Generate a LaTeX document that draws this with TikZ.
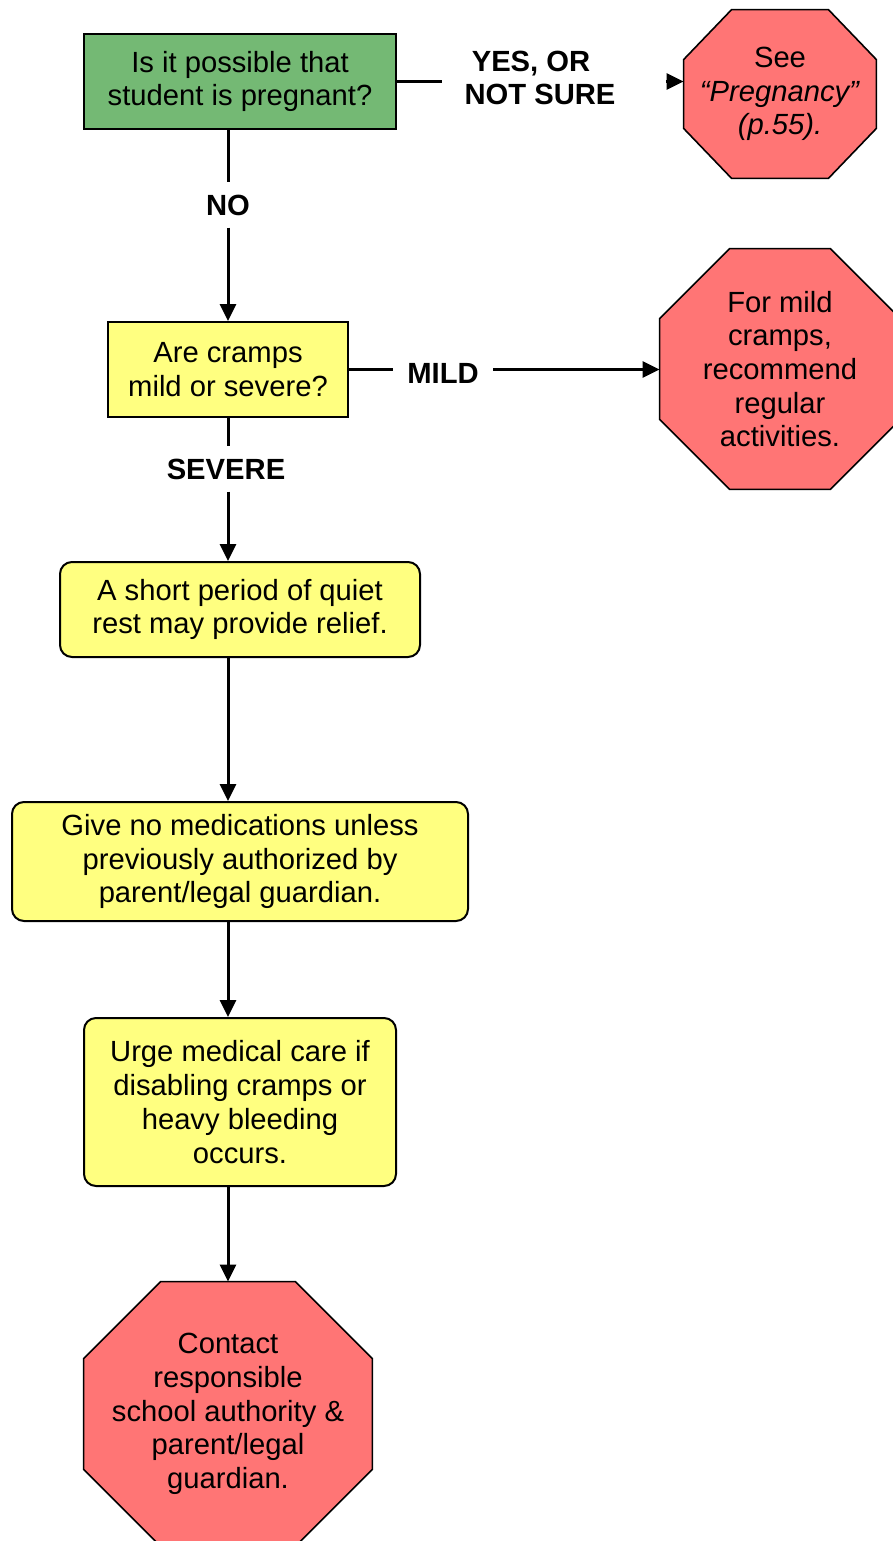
\documentclass[tikz,border=0pt]{standalone}
\usepackage{fontspec}
\setmainfont{Liberation Sans}
\usetikzlibrary{arrows.meta,backgrounds}
\definecolor{qgreen}{RGB}{116,185,116}
\definecolor{qyellow}{RGB}{255,255,128}
\definecolor{qred}{RGB}{255,117,117}
\newcommand{\octdraw}[3]{%
  \draw[octline] ([xshift=#2]#1.north west) -- ([xshift=-#2]#1.north east)
    -- ([yshift=-#3]#1.north east) -- ([yshift=#3]#1.south east)
    -- ([xshift=-#2]#1.south east) -- ([xshift=#2]#1.south west)
    -- ([yshift=#3]#1.south west) -- ([yshift=-#3]#1.north west) -- cycle;}
\begin{document}
\begin{tikzpicture}[x=0.5pt,y=-0.5pt,
  font=\fontsize{14.6pt}{16.85pt}\selectfont,
  qbox/.style={draw, line width=1pt, align=center, inner sep=0pt},
  rbox/.style={qbox, fill=qyellow, rounded corners=6pt},
  lbl/.style={font=\fontsize{14.6pt}{16.85pt}\selectfont\bfseries, align=center},
  octn/.style={inner sep=0pt, align=center},
  octline/.style={draw, fill=qred, line width=0.8pt},
  conn/.style={line width=1.5pt},
  arr/.style={conn, -{Triangle[length=8.5pt,width=8pt]}}]
\useasboundingbox (0,0) rectangle (893,1541);

\node[qbox, fill=qgreen, minimum width=156pt, minimum height=47.5pt] (g) at (240,81.5)
  {Is it possible that\\student is pregnant?};
\node[lbl, inner xsep=11pt] (ly) at (540,78) {YES, OR\kern9pt\\NOT SURE};
\node[octn, minimum width=96pt, minimum height=84pt] (o1) at (780,94)
  {See\\\textit{“Pregnancy”}\\\textit{(p.55).}};

\node[lbl, inner ysep=6pt] (ln) at (228,205) {NO};
\node[qbox, fill=qyellow, minimum width=120pt, minimum height=47.5pt] (b2) at (228,369.5)
  {Are cramps\\mild or severe?};
\node[lbl, inner xsep=7pt] (lm) at (443,373) {MILD};
\node[octn, minimum width=120pt, minimum height=120pt] (o2) at (780,369)
  {For mild\\cramps,\\recommend\\regular\\activities.};

\node[lbl, inner ysep=6pt] (ls) at (226,469) {SEVERE};
\node[rbox, minimum width=180pt, minimum height=47.5pt] (b3) at (240,609.5)
  {A short period of quiet\\rest may provide relief.};
\node[rbox, minimum width=228pt, minimum height=59.5pt] (b4) at (240,861.5)
  {Give no medications unless\\previously authorized by\\parent/legal guardian.};
\node[rbox, minimum width=156pt, minimum height=84pt] (b5) at (240,1102)
  {Urge medical care if\\disabling cramps or\\heavy bleeding\\occurs.};
\node[octn, minimum width=144pt, minimum height=132pt] (o3) at (228,1414)
  {Contact\\responsible\\school authority \&\\parent/legal\\guardian.};

\begin{scope}[on background layer]
  \octdraw{o1}{24pt}{25pt}
  \octdraw{o2}{35pt}{35pt}
  \octdraw{o3}{38.5pt}{38.5pt}
\end{scope}

\draw[conn] (g.east) -- (ly.west |- g.east);
\draw[arr] ([xshift=14pt]ly.east |- g.east) -- (o1.west |- g.east);
\draw[conn] (g.south -| ln.north) -- (ln.north);
\draw[arr] (ln.south) -- (b2.north);
\draw[conn] (b2.east) -- (lm.west |- b2.east);
\draw[arr] (lm.east |- b2.east) -- (o2.west |- b2.east);
\draw[conn] (b2.south) -- (b2.south |- ls.north);
\draw[arr] (b2.south |- ls.south) -- (b3.north -| b2.south);
\draw[arr] (b3.south -| b2.south) -- (b4.north -| b2.south);
\draw[arr] (b4.south -| b2.south) -- (b5.north -| b2.south);
\draw[arr] (b5.south -| b2.south) -- (o3.north);
\end{tikzpicture}
\end{document}
